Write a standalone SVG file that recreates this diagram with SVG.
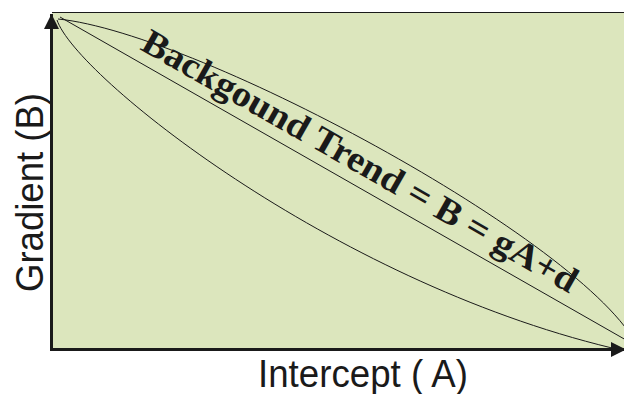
<svg xmlns="http://www.w3.org/2000/svg" width="624" height="394" viewBox="0 0 624 394">
<style>
.curve{fill:none;stroke:#1a1a1a;stroke-width:1}
.axis{fill:none;stroke:#1a1a1a;stroke-width:3}
.lbl{font-family:"Liberation Sans",Arial,sans-serif;font-size:38px;fill:#1a1a1a}
.trend{font-family:"Liberation Serif","Times New Roman",serif;font-weight:bold;font-size:36px;fill:#1a1a1a}
</style>
<defs>
<marker id="ah" viewBox="0 0 10 10" refX="10" refY="5" markerWidth="5" markerHeight="5" orient="auto" markerUnits="strokeWidth">
<path d="M0,0 L10,5 L0,10 z" fill="#1a1a1a"/>
</marker>
</defs>
<g id="plot">
<rect x="52" y="12" width="580" height="338" fill="#dce6bd"/>
<line x1="52" y1="12.5" x2="624" y2="12.5" stroke="#1a1a1a" stroke-width="1.2"/>
</g>
<g id="connectors">
<path class="curve" d="M58,19 C200,33 600,250 640,352"/>
<path class="curve" d="M60,17 L640,348"/>
<path class="curve" d="M57,20 C75,75 330,280 612,348"/>
</g>
<g id="axes">
<line class="axis" x1="51.5" y1="351" x2="51.5" y2="14" marker-end="url(#ah)"/>
<line class="axis" x1="50" y1="349.5" x2="626" y2="349.5" marker-end="url(#ah)"/>
</g>
<g id="labels">
<text class="lbl" transform="translate(43,292) rotate(-90)" textLength="199" lengthAdjust="spacingAndGlyphs">Gradient (B)</text>
<text class="lbl" x="258" y="387" textLength="210" lengthAdjust="spacingAndGlyphs">Intercept ( A)</text>
<text class="trend" transform="translate(139,49) rotate(29.6)" textLength="495" lengthAdjust="spacingAndGlyphs">Backgound Trend = B = gA+d</text>
</g>
</svg>
